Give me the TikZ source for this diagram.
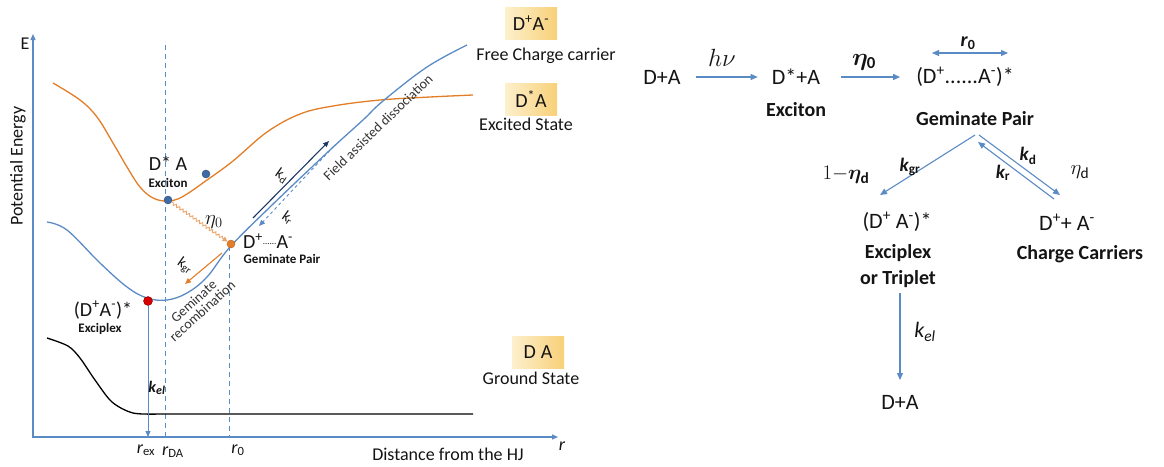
\documentclass[tikz,border=0pt]{standalone}
\usepackage{fontspec}
\setmainfont{Carlito}
\usepackage{amsmath,bm}
\usetikzlibrary{arrows.meta,decorations.pathmorphing,calc}
\definecolor{lblue}{RGB}{91,139,197}
\definecolor{lorange}{RGB}{226,125,40}
\definecolor{navy}{RGB}{31,56,100}
\definecolor{boxL}{RGB}{253,240,205}
\definecolor{boxR}{RGB}{248,208,120}
\definecolor{dotblue}{RGB}{62,106,165}
\definecolor{txt}{RGB}{20,20,20}
\newcommand{\fs}[1]{\fontsize{#1}{#1}\selectfont}
\begin{document}
\begin{tikzpicture}[x=1pt,y=-1pt,
  every node/.style={inner sep=1pt, text=txt},
  lab/.style={font=\fs{18}},
  sml/.style={font=\fs{13}\bfseries},
  rt/.style={font=\fs{22}},
  rb/.style={font=\fs{20}\bfseries},
  arr/.style={draw=lblue, line width=1.1pt, -{Triangle[length=7pt,width=6pt]}},
  axisline/.style={draw=lblue, line width=1.3pt},
  dashv/.style={draw=lblue, dash pattern=on 5pt off 4pt, line width=1pt},
  stbox/.style={left color=boxL, right color=boxR, minimum width=52pt, minimum height=32pt, inner sep=0pt, font=\fs{20}},
  dotb/.style={circle, fill=dotblue, draw=dotblue!70!black, minimum size=8pt, inner sep=0pt},
  doto/.style={circle, fill=lorange, draw=lorange!80!black, minimum size=8pt, inner sep=0pt},
  dotr/.style={circle, fill=red!85!black, draw=red!50!black, minimum size=9pt, inner sep=0pt}
]
\useasboundingbox (0,0) rectangle (1164,466);

% ---------- Left panel ----------
\coordinate (O) at (33,437);
\coordinate (Etop) at (33,34);
\coordinate (Rend) at (558,437);
\draw[axisline, {Triangle[length=6pt,width=5pt]}-{Triangle[length=6pt,width=5pt]}] (Etop) -- (O) -- (Rend);
\node[lab] (E) at (25,44) {E};
\node[lab, rotate=90] (PE) at (18,166) {Potential Energy};
\node[lab] (dist) at (448,454) {Distance from the HJ};
\node[lab, font=\fs{18}\itshape] (rr) at (562,446) {r};

% dashed verticals
\coordinate (dDAt) at (165,45);
\coordinate (dDAb) at (165,437);
\draw[dashv] (dDAt) -- (dDAb);
\coordinate (d0t) at (229,246);
\coordinate (d0b) at (229,437);
\draw[dashv] (d0t) -- (d0b);

% curves
\draw[lorange, line width=1.3pt] plot[smooth, tension=0.6] coordinates {(53,83) (80,100) (97,117) (113,143) (127,167) (140,187) (153,198) (167,201) (182,197) (207,180) (233,161) (267,132) (300,114) (333,106) (380,100) (430,97) (473,95)};
\draw[lblue, line width=1.3pt] plot[smooth, tension=0.6] coordinates {(47,222) (67,230) (100,263) (127,287) (147,298) (167,300) (187,293) (207,277) (230,247) (270,207) (330,150) (363,120) (383,101) (427,67) (467,45)};
\draw[black, line width=1.3pt] plot[smooth, tension=0.5] coordinates {(47,338) (68,346) (80,358) (95,380) (112,402) (133,413) (160,414)} -- (473,414);

% dots
\node[dotb] (ex) at (168,200) {};
\node[dotb] (ex2) at (206,174) {};
\node[doto] (gp) at (231,244) {};
\node[dotr] (xp) at (148,301) {};

% k_el arrow
\coordinate (xpb) at (148,437);
\draw[arr, line width=1pt, -{Triangle[length=6pt,width=5pt]}] (xp) -- (xpb);
\node[font=\fs{16}\bfseries\itshape] (kel) at (157,388) {k\textsubscript{\fs{12}el}};

% wavy eta0
\draw[lorange!70, line width=0.9pt, decorate, decoration={snake, amplitude=1.3pt, segment length=4pt, post length=5pt}, -{Triangle[length=5pt,width=5pt]}] (ex) -- (gp);
\node[font=\fs{20}, text=txt] (eta0) at (214,222) {$\eta_0$};

% kgr arrow
\coordinate (kgrs) at (222,253);
\coordinate (kgre) at (185,284);
\draw[lorange, line width=1.1pt, -{Triangle[length=6pt,width=5pt]}] (kgrs) -- (kgre);
\node[font=\fs{15}, rotate=-35] (kgr) at (185,266) {k\textsubscript{gr}};

% kd / kr
\coordinate (kds) at (253,218);
\coordinate (kde) at (329,141);
\draw[navy, line width=1.1pt, -{Triangle[length=6pt,width=5pt]}] (kds) -- (kde);
\coordinate (krs) at (334,146);
\coordinate (kre) at (259,226);
\draw[lblue, dashed, line width=0.9pt, -{Triangle[length=6pt,width=5pt]}] (krs) -- (kre);
\node[font=\fs{15}, rotate=-35] (kd) at (282,176) {k\textsubscript{d}};
\node[font=\fs{15}, rotate=-35] (kr) at (288,218) {k\textsubscript{r}};

\node[font=\fs{14}, rotate=44, text=black!80] (fad) at (378,127) {Field assisted dissociation};
\node[font=\fs{14}, rotate=42, text=black!80, align=center] (gr) at (198,306) {Geminate\\[-1pt]recombination};

% state labels
\node[font=\fs{20}] (DA1) at (168,163) {D* A};
\node[sml] (DA1l) at (168,183) {Exciton};
\node[font=\fs{20}] (GPt) at (268,241) {D\textsuperscript{+}{\fs{9}\raisebox{0.9ex}{......}}A\textsuperscript{-}};
\node[sml] (GPl) at (282,259) {Geminate Pair};
\node[font=\fs{20}] (XPt) at (103,310) {(D\textsuperscript{+}A\textsuperscript{-})*};
\node[sml] (XPl) at (100,329) {Exciplex};

% axis r labels
\node[font=\fs{18}\itshape] (rex) at (146,450) {r\textsubscript{\upshape ex}};
\node[font=\fs{18}\itshape] (rda) at (173,452) {r\textsubscript{\upshape DA}};
\node[font=\fs{18}\itshape] (r0l) at (238,450) {r\textsubscript{\upshape 0}};

% right side state boxes
\node[stbox] (b1) at (531,23) {D\textsuperscript{+}A\textsuperscript{-}};
\node[lab] (b1l) at (546,56) {Free Charge carrier};
\node[stbox] (b2) at (531,99) {D\textsuperscript{*}A};
\node[lab] (b2l) at (526,124) {Excited State};
\node[stbox] (b3) at (538,352) {D\hspace{5pt}A};
\node[lab] (b3l) at (531,378) {Ground State};

% ---------- Right scheme ----------
\node[rt] (r1) at (662,77) {D+A};
\node[rt] (r2) at (796,77) {D*+A};
\node[rb] (r2l) at (796,110) {Exciton};
\node[rt] (r3) at (965,77) {(D\textsuperscript{+}......A\textsuperscript{-})*};
\node[rb] (r3l) at (975,119) {Geminate Pair};
\coordinate (apex) at (975,135);
\node[rt] (r4) at (897,222) {(D\textsuperscript{+} A\textsuperscript{-})*};
\node[align=center, font={\fontsize{20}{26}\selectfont\bfseries}] (r4l) at (898,266) {Exciplex\\or Triplet};
\node[rt] (r5) at (1067,222) {D\textsuperscript{+}+ A\textsuperscript{-}};
\node[rb] (r5l) at (1080,254) {Charge Carriers};
\node[rt] (r6) at (900,402) {D+A};

\draw[arr] ([xshift=14pt]r1.east) -- ([xshift=-13pt]r2.west);
\node[font=\fs{24}] (hv) at (722,58) {$h\nu$};
\draw[arr] ([xshift=20pt]r2.east) -- ([xshift=-15pt]r3.west);
\node[font=\fs{24}] (eta0r) at (864,62) {$\bm{\eta}_{\mathbf 0}$};
\coordinate (r0a) at (932,53);
\coordinate (r0b) at (1008,53);
\draw[arr, {Triangle[length=7pt,width=6pt]}-{Triangle[length=7pt,width=6pt]}] (r0a) -- (r0b);
\node[font=\fs{20}\bfseries] (r0r) at (968,43) {\textit{r}\textsubscript{0}};

\coordinate (kgrEnd) at (880,195);
\draw[arr] (apex) -- (kgrEnd);
\coordinate (kdEnd) at (1060,195);
\draw[arr] ($(apex)+(4,0)$) -- (kdEnd);
\coordinate (krStart) at (1054,199);
\draw[arr] (krStart) -- ($(apex)+(3,7)$);
\node[font=\fs{19}\bfseries\itshape] (kgrr) at (910,167) {k\textsubscript{\upshape gr}};
\node[font=\fs{22}] (etd1) at (846,175) {$1{-}\bm{\eta}_{\mathbf d}$};
\node[font=\fs{19}\bfseries\itshape] (kdr) at (1028,156) {k\textsubscript{\upshape d}};
\node[font=\fs{19}\bfseries\itshape] (krr) at (1003,173) {k\textsubscript{\upshape r}};
\node[font=\fs{22}] (etd) at (1080,172) {$\eta_{\mathrm d}$};

\coordinate (kelS) at (900,293);
\coordinate (kelE) at (900,380);
\draw[arr] (kelS) -- (kelE);
\node[font=\fs{22}\itshape] (kelr) at (925,332) {k\textsubscript{el}};
\end{tikzpicture}
\end{document}
